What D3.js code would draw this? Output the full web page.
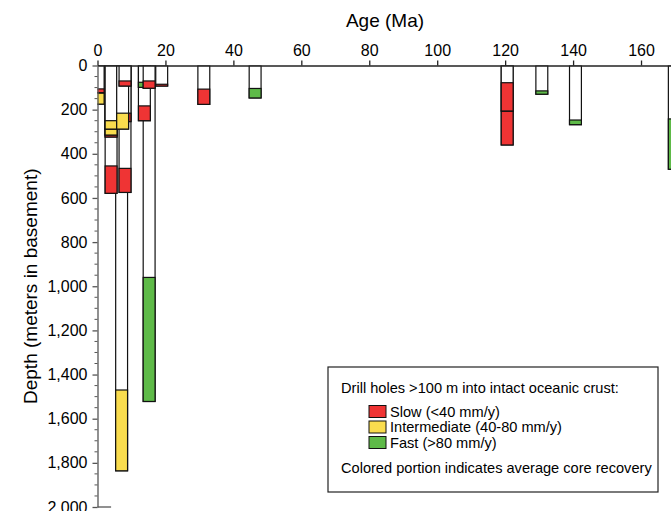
<!DOCTYPE html>
<html>
<head>
<meta charset="utf-8">
<script src="https://cdn.jsdelivr.net/npm/d3@7"></script>
<style>
body{margin:0;background:#fff;}
svg{display:block;font-family:"Liberation Sans",Arial,Helvetica,sans-serif;}
</style>
</head>
<body>
<div id="canvas"></div>
<script>
// drill holes, listed in drawing order (later holes sit on top of earlier ones)
var holeAge   = [7.1, 15.2, 4.0, 8.1, 169.8, 120.6, 140.7, 13.8, 4.0, 4.0, 4.0, 8.1, 7.4, 120.6, 31.3, 0.2, 0.2, 46.4, 130.8, 13.8, 15.2, 8.1, 18.9];
var holeDepth = [1836, 1522, 579, 575, 470, 360, 268, 250, 324, 315, 288, 254, 288, 206, 176, 175, 123, 147, 130, 99, 103, 93, 93];
var colorTop  = [1470, 960, 455, 466, 242, 206, 247, 183, 312, 288, 250, 216, 216, 78, 107, 125, 106, 104, 115, 76, 70, 70, 85];
var holeRate  = ['I','F','S','S','F','S','F','S','S','I','I','S','I','S','S','I','S','F','F','F','S','S','S'];

var rateKeys   = ['S','I','F'];
var rateLabels = ['Slow (<40 mm/y)', 'Intermediate (40-80 mm/y)', 'Fast (>80 mm/y)'];
var rateColors = ['#ef3434', '#f9dc4e', '#5eba48'];

var xTicks = d3.range(0, 161, 20);
var yTicks = d3.range(0, 2001, 200);
var yMinor = d3.range(0, 2001, 50);

var holes = holeAge.map(function(a, i){
    return {age:a, depth:holeDepth[i], top:colorTop[i], rate:holeRate[i]};
});

var W = 671, H = 511;
var svg = d3.select('#canvas').append('svg')
    .attr('width', W).attr('height', H);

var x = d3.scaleLinear().domain([0, 180]).range([97.5, 97.5 + 180*3.397]);
var y = d3.scaleLinear().domain([0, 2000]).range([65.5, 507]);
var color = d3.scaleOrdinal().domain(rateKeys).range(rateColors);
var barW = 3.5; // Ma

svg.append('clipPath').attr('id','plotclip')
    .append('rect').attr('x', x(0)).attr('y', y(0)).attr('width', W).attr('height', H);

var plot = svg.append('g').attr('clip-path','url(#plotclip)');

var hole = plot.selectAll('.hole')
    .data(holes)
    .enter().append('g').attr('class','hole');

// full hole outline
hole.append('rect')
    .attr('x', function(d){ return x(d.age - barW/2); })
    .attr('width', function(d){ return x(barW) - x(0); })
    .attr('y', y(0))
    .attr('height', function(d){ return y(d.depth) - y(0); })
    .style('fill','#fff')
    .style('stroke','#111')
    .style('stroke-width', 1.2);

// coloured part = core recovery
hole.append('rect')
    .attr('x', function(d){ return x(d.age - barW/2); })
    .attr('width', function(d){ return x(barW) - x(0); })
    .attr('y', function(d){ return y(d.top); })
    .attr('height', function(d){ return y(d.depth) - y(d.top); })
    .style('fill', function(d){ return color(d.rate); })
    .style('stroke','#111')
    .style('stroke-width', 1.2);

// top age axis
var xAxis = svg.append('g')
    .attr('transform','translate(0,' + y(0) + ')')
    .call(d3.axisTop(x).tickValues(xTicks).tickSize(5).tickPadding(5).tickSizeOuter(0));
xAxis.selectAll('text').style('font-size','16px').style('fill','#000');
xAxis.selectAll('line, path').style('stroke','#222').style('stroke-width',1.3);

// depth axis
var yAxis = svg.append('g')
    .attr('transform','translate(' + x(0) + ',0)')
    .call(d3.axisLeft(y).tickValues(yTicks).tickFormat(d3.format(',')).tickSize(5).tickPadding(5).tickSizeOuter(0));
yAxis.selectAll('text').style('font-size','16px').style('fill','#000');
yAxis.selectAll('line, path').style('stroke','#555').style('stroke-width',1.3);

yAxis.selectAll('.minor')
    .data(yMinor.filter(function(v){ return v % 200 !== 0; }))
    .enter().append('line').attr('class','minor')
    .attr('x1', -3).attr('x2', 0)
    .attr('y1', function(d){ return y(d); }).attr('y2', function(d){ return y(d); })
    .style('stroke','#555').style('stroke-width',1);

svg.append('line')
    .attr('x1', x(0)).attr('x2', x(4))
    .attr('y1', y(2000)).attr('y2', y(2000))
    .style('stroke','#555').style('stroke-width',1.3);

// titles
svg.append('text')
    .attr('x', 385).attr('y', 27)
    .attr('text-anchor','middle')
    .style('font-size','19px')
    .text('Age (Ma)');

svg.append('text')
    .attr('transform','translate(37,' + (y(0) + y(2000))/2 + ') rotate(-90)')
    .attr('text-anchor','middle')
    .style('font-size','19px')
    .text('Depth (meters in basement)');

// legend
var lg = svg.append('g').attr('transform','translate(328,367)');
lg.append('rect').attr('width', 330).attr('height', 125)
    .style('fill','#fff').style('stroke','#222').style('stroke-width',1.2);
lg.append('text').attr('x', 13).attr('y', 26).style('font-size','14.6px')
    .text('Drill holes >100 m into intact oceanic crust:');
var item = lg.selectAll('.item')
    .data(rateKeys)
    .enter().append('g').attr('class','item')
    .attr('transform', function(d, i){ return 'translate(41,' + (38.5 + i*15.5) + ')'; });
item.append('rect').attr('width', 17).attr('height', 12)
    .style('fill', function(d){ return color(d); })
    .style('stroke','#111').style('stroke-width',1);
item.append('text').attr('x', 21).attr('y', 11).style('font-size','14.6px')
    .text(function(d, i){ return rateLabels[i]; });
lg.append('text').attr('x', 13).attr('y', 106).style('font-size','14.6px')
    .text('Colored portion indicates average core recovery');
</script>
</body>
</html>
